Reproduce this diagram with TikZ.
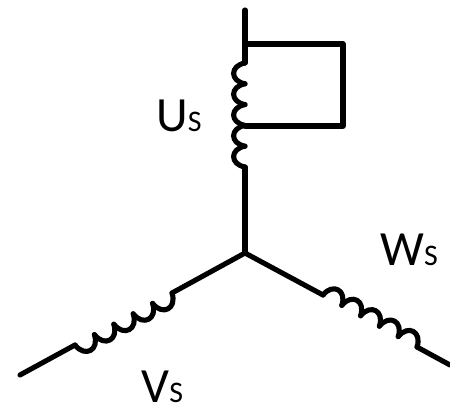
\documentclass[tikz,border=0pt]{standalone}
\usepackage{fontspec}
\setmainfont{Carlito}
\usetikzlibrary{calc}

\tikzset{
  wire/.style={line width=2.9pt, line cap=round, line join=round},
  bump/.style={wire, bend left=#1, looseness=1.9},
  winding/.style={anchor=base west, inner sep=0pt, font=\fontsize{28}{28}\selectfont},
}
\newcommand{\coilbumps}[3]{%
  \foreach \i [evaluate=\i as \j using \i-1] in {1,...,5} {
    \draw[bump=#3] ($(#1)!\j/5!(#2)$) to ($(#1)!\i/5!(#2)$);
  }
}
\newcommand{\subs}{\fontsize{17}{17}\selectfont S}

\begin{document}
\begin{tikzpicture}

  \useasboundingbox (0,0) rectangle (9,8.16);

  % terminals and coil ends
  \coordinate (top)  at (4.9,7.96);
  \coordinate (jn)   at (4.9,7.28);
  \coordinate (ua)   at (4.9,6.9);
  \coordinate (tap)  at (4.9,5.64);
  \coordinate (ub)   at (4.9,4.82);
  \coordinate (c1)   at (6.86,7.28);
  \coordinate (c2)   at (6.86,5.64);
  \coordinate (star) at (4.9,3.1);
  \coordinate (vb)   at (3.44,2.3);
  \coordinate (va)   at (1.5,1.26);
  \coordinate (vend) at (0.4,0.66);
  \coordinate (wa)   at (6.46,2.26);
  \coordinate (wb)   at (8.34,1.22);
  \coordinate (wend) at (9,0.86);

  \draw[wire] (top) -- (ua);
  \draw[wire] (jn) -- (c1) -- (c2) -- (tap);
  \draw[wire] (ub) -- (star);
  \draw[wire] (star) -- (vb);
  \draw[wire] (va) -- (vend);
  \draw[wire] (star) -- (wa);
  \draw[wire] (wb) -- (wend);

  \coilbumps{ua}{ub}{-80}
  \coilbumps{vb}{va}{80}
  \coilbumps{wa}{wb}{80}

  \node[winding] (us) at (3.12,5.54) {U\subs};
  \node[winding] (vs) at (2.82,0.12) {V\subs};
  \node[winding] (ws) at (7.6,2.86) {W\subs};

\end{tikzpicture}
\end{document}
